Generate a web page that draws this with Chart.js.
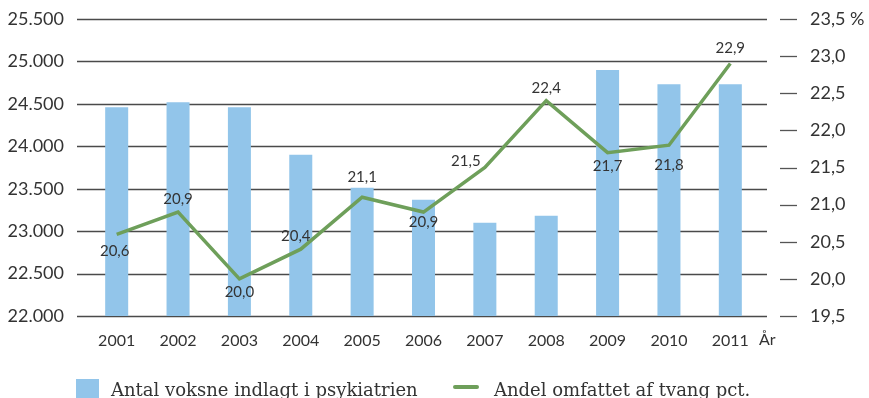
<!DOCTYPE html>
<html lang="da">
<head>
<meta charset="utf-8">
<title>Indlagte i psykiatrien og andel omfattet af tvang</title>
<script src="https://cdn.jsdelivr.net/npm/chart.js@4"></script>
<style>
  html, body { margin: 0; padding: 0; background: #fff; overflow: hidden; }
  #wrap { position: relative; width: 869px; height: 398px; }
  canvas { display: block; }
  #legende { position: absolute; left: 0; top: 379px; width: 869px; height: 30px;
    font-family: "DejaVu Serif", serif; font-size: 18px; color: #333; }
  .leg { position: absolute; top: 0; white-space: nowrap; }
  .boks { position: absolute; left: 76px; top: 0; width: 23px; height: 20px; background: #92c5ea; }
  .streg { position: absolute; left: 453px; top: 6px; width: 26px; height: 4px; border-radius: 2px; background: #6e9f5a; }
</style>
</head>
<body>
<div id="wrap">
  <canvas id="grafik" width="869" height="398"></canvas>
  <div id="legende">
    <div class="boks"></div>
    <div class="leg" style="left:111px;">Antal voksne indlagt i psykiatrien</div>
    <div class="streg"></div>
    <div class="leg" style="left:494px;">Andel omfattet af tvang pct.</div>
  </div>
</div>
<script>
// ========== DATA ==========
const aar = ['2001', '2002', '2003', '2004', '2005', '2006', '2007', '2008', '2009', '2010', '2011'];
const indlagte = [24460, 24520, 24460, 23900, 23510, 23370, 23100, 23180, 24900, 24730, 24730];
const andelTvang = [20.6, 20.9, 20.0, 20.4, 21.1, 20.9, 21.5, 22.4, 21.7, 21.8, 22.9];

// Placering af værdi-labels (forskydning i px fra punktet)
const labelOffset = [
  [-2, 17], [0, -13], [0, 13], [-5, -13], [0, -20], [0, 10],
  [-19, -6], [0, -13], [0, 14], [0, 20], [0, -15]
];

const tekstFont = 'Lato, "Noto Sans", sans-serif';

const fmtAntal = v => v.toLocaleString('da-DK');
const fmtPct = (v, max) => v.toFixed(1).replace('.', ',') + (v === max ? ' %' : '');

// Gitterlinjer, aksetal og værdi-labels tegnes selv
const gitterPlugin = {
  id: 'gitter',
  beforeDatasetsDraw(chart) {
    const { ctx, scales } = chart;
    const y = scales.y;
    const y2 = scales.y2;
    ctx.save();
    ctx.strokeStyle = '#4a4a4a';
    ctx.lineWidth = 1.3;
    y.ticks.forEach(t => {
      const py = Math.round(y.getPixelForValue(t.value)) + 0.5;
      ctx.beginPath();
      ctx.moveTo(77, py);
      ctx.lineTo(767, py);
      ctx.stroke();
    });
    // små streger foran højre akses tal
    ctx.strokeStyle = '#555';
    y2.ticks.forEach(t => {
      const py = Math.round(y2.getPixelForValue(t.value)) + 0.5;
      ctx.beginPath();
      ctx.moveTo(780, py);
      ctx.lineTo(797, py);
      ctx.stroke();
    });

    // aksetal
    ctx.fillStyle = '#333';
    ctx.font = '18px ' + tekstFont;
    ctx.textBaseline = 'middle';
    ctx.textAlign = 'right';
    y.ticks.forEach(t => ctx.fillText(fmtAntal(t.value), 64, y.getPixelForValue(t.value)));
    ctx.textAlign = 'left';
    y2.ticks.forEach(t => ctx.fillText(fmtPct(t.value, y2.max), 810, y2.getPixelForValue(t.value)));
    ctx.restore();
  },
  afterDraw(chart) {
    const { ctx, chartArea } = chart;
    // aksetitel "År"
    ctx.save();
    ctx.font = '16px ' + tekstFont;
    ctx.fillStyle = '#333';
    ctx.textBaseline = 'middle';
    ctx.fillText('År', 759, chartArea.bottom + 24);

    // værdier på linjen
    const meta = chart.getDatasetMeta(1);
    ctx.font = '15px ' + tekstFont;
    ctx.textAlign = 'center';
    meta.data.forEach((p, i) => {
      const [dx, dy] = labelOffset[i];
      ctx.fillText(andelTvang[i].toFixed(1).replace('.', ','), p.x + dx, p.y + dy);
    });
    ctx.restore();
  }
};

const ctx = document.getElementById('grafik').getContext('2d');
new Chart(ctx, {
  data: {
    labels: aar,
    datasets: [{
      type: 'bar',
      label: 'Antal voksne indlagt i psykiatrien',
      data: indlagte,
      yAxisID: 'y',
      backgroundColor: '#92c5ea',
      barPercentage: 0.375,
      categoryPercentage: 1,
      order: 1
    }, {
      type: 'line',
      label: 'Andel omfattet af tvang pct.',
      data: andelTvang,
      yAxisID: 'y2',
      borderColor: '#6e9f5a',
      borderWidth: 3.5,
      pointRadius: 0,
      tension: 0,
      order: 0
    }]
  },
  options: {
    responsive: false,
    animation: false,
    layout: { padding: { top: 19, bottom: 42, left: 0, right: 0 } },
    plugins: { legend: { display: false }, tooltip: { enabled: false } },
    scales: {
      x: {
        afterFit: s => { s.height = 40; },
        grid: { display: false },
        border: { display: false },
        ticks: { color: '#333', font: { family: tekstFont, size: 16 }, padding: 7, maxRotation: 0 }
      },
      y: {
        position: 'left',
        min: 22000, max: 25500,
        afterFit: s => { s.width = 86; },
        grid: { display: false, drawTicks: false },
        border: { display: false },
        ticks: { stepSize: 500, display: false }
      },
      y2: {
        position: 'right',
        min: 19.5, max: 23.5,
        afterFit: s => { s.width = 108; },
        grid: { display: false, drawTicks: false },
        border: { display: false },
        ticks: { stepSize: 0.5, display: false }
      }
    }
  },
  plugins: [gitterPlugin]
});
</script>
</body>
</html>
